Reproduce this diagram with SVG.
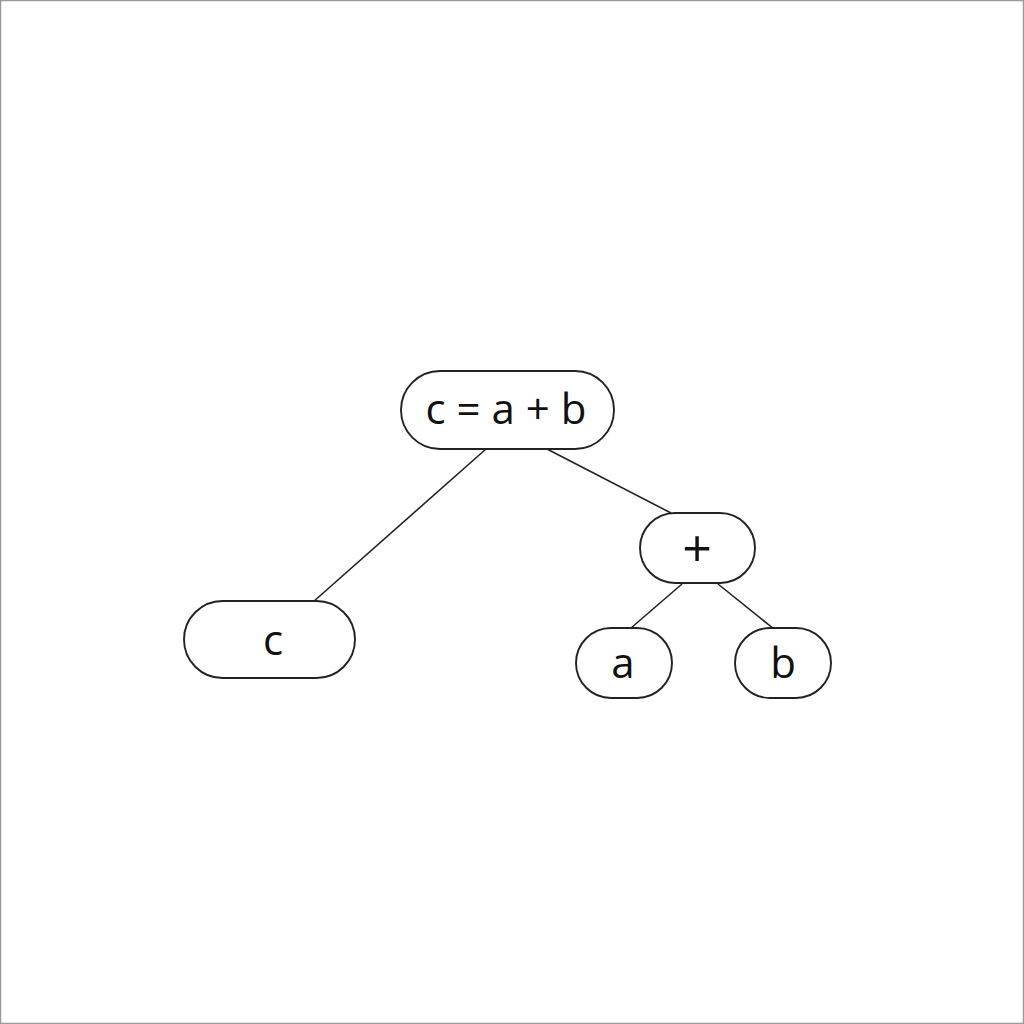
<svg xmlns="http://www.w3.org/2000/svg" width="1024" height="1024" viewBox="0 0 1024 1024">
<style>
.node{fill:#ffffff;stroke:#222222;stroke-width:1.9}
.lbl{font-family:"Open Sans","Noto Sans",sans-serif;font-size:42px;fill:#111111;text-anchor:middle;dominant-baseline:central}
.edge{stroke:#222222;stroke-width:1.6;fill:none}
</style>
<rect x="0.5" y="0.5" width="1023" height="1023" fill="#ffffff" stroke="#999999" stroke-width="1.5"/>
<g id="connectors">
<line class="edge" x1="486" y1="449" x2="313" y2="602"/>
<line class="edge" x1="547" y1="449" x2="671" y2="513"/>
<line class="edge" x1="682" y1="584" x2="631" y2="628"/>
<line class="edge" x1="718" y1="584" x2="774" y2="629"/>
</g>
<g id="node-root">
<rect class="node" x="401" y="371" width="213" height="78" rx="39"/>
<text class="lbl" x="506" y="407">c = a + b</text>
</g>
<g id="node-c">
<rect class="node" x="184" y="601" width="171" height="77" rx="38.5"/>
<text class="lbl" x="273" y="638">c</text>
</g>
<g id="node-plus">
<rect class="node" x="640" y="513" width="115" height="70" rx="35"/>
<text class="lbl" x="697" y="546" style="font-size:52px">+</text>
</g>
<g id="node-a">
<rect class="node" x="576" y="628" width="96" height="70" rx="35"/>
<text class="lbl" x="623" y="661">a</text>
</g>
<g id="node-b">
<rect class="node" x="735" y="628" width="96" height="70" rx="35"/>
<text class="lbl" x="783" y="661">b</text>
</g>
</svg>
